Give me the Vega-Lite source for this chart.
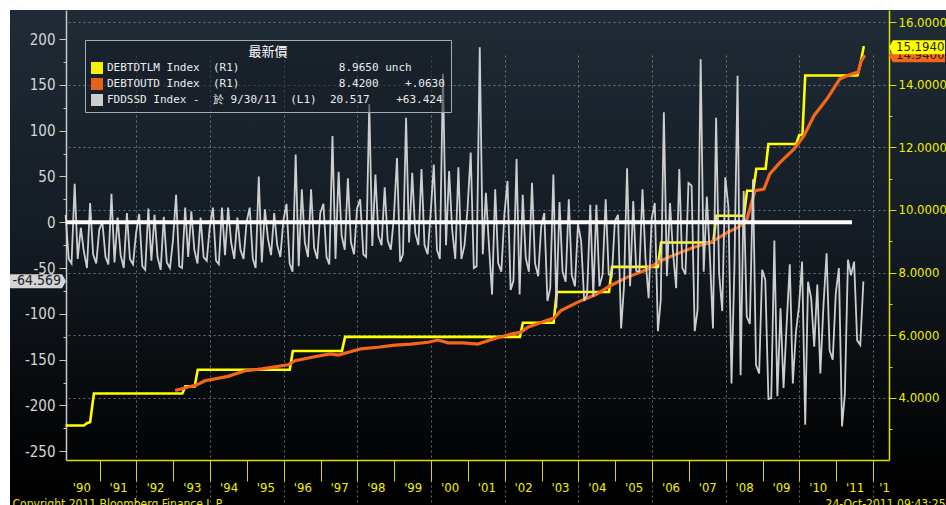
{
  "$schema": "https://vega.github.io/schema/vega-lite/v6.json",
  "width": 936,
  "height": 495,
  "autosize": {"type": "none"},
  "padding": {"left": 10, "top": 10, "right": 0, "bottom": 0},
  "background": "#ffffff",
  "config": {
    "view": {
      "stroke": null,
      "fill": {"gradient": "linear", "x1": 0, "y1": 0, "x2": 0, "y2": 1,
        "stops": [
          {"offset": 0, "color": "#1f2b36"},
          {"offset": 0.45, "color": "#141c24"},
          {"offset": 0.88, "color": "#030405"},
          {"offset": 1, "color": "#000000"}
        ]}
    },
    "axis": {"labelFont": "Liberation Sans Narrow, DejaVu Sans Condensed, sans-serif", "titleFont": "Liberation Sans Narrow, DejaVu Sans Condensed, sans-serif", "titleFontWeight": "normal"},
    "legend": {"strokeWidth": 1}
  },
  "datasets": {
    "fdd": [
      {"d":"1990-01-28","v":8},{"d":"1990-02-28","v":-40},{"d":"1990-03-28","v":-45},{"d":"1990-04-28","v":42},{"d":"1990-05-28","v":-40},{"d":"1990-06-28","v":-6},{"d":"1990-07-28","v":-32},{"d":"1990-08-28","v":-50},{"d":"1990-09-28","v":21},{"d":"1990-10-28","v":-35},{"d":"1990-11-28","v":-45},{"d":"1990-12-28","v":-8},
      {"d":"1991-01-28","v":0},{"d":"1991-02-28","v":-38},{"d":"1991-03-28","v":-46},{"d":"1991-04-28","v":31},{"d":"1991-05-28","v":-44},{"d":"1991-06-28","v":5},{"d":"1991-07-28","v":-36},{"d":"1991-08-28","v":-50},{"d":"1991-09-28","v":10},{"d":"1991-10-28","v":-40},{"d":"1991-11-28","v":-46},{"d":"1991-12-28","v":-12},
      {"d":"1992-01-28","v":9},{"d":"1992-02-28","v":-48},{"d":"1992-03-28","v":-52},{"d":"1992-04-28","v":15},{"d":"1992-05-28","v":-42},{"d":"1992-06-28","v":8},{"d":"1992-07-28","v":-38},{"d":"1992-08-28","v":-52},{"d":"1992-09-28","v":6},{"d":"1992-10-28","v":-44},{"d":"1992-11-28","v":-50},{"d":"1992-12-28","v":-20},
      {"d":"1993-01-28","v":30},{"d":"1993-02-28","v":-48},{"d":"1993-03-28","v":-50},{"d":"1993-04-28","v":16},{"d":"1993-05-28","v":-38},{"d":"1993-06-28","v":12},{"d":"1993-07-28","v":-30},{"d":"1993-08-28","v":-45},{"d":"1993-09-28","v":5},{"d":"1993-10-28","v":-38},{"d":"1993-11-28","v":-42},{"d":"1993-12-28","v":-5},
      {"d":"1994-01-28","v":16},{"d":"1994-02-28","v":-42},{"d":"1994-03-28","v":-46},{"d":"1994-04-28","v":16},{"d":"1994-05-28","v":-36},{"d":"1994-06-28","v":16},{"d":"1994-07-28","v":-22},{"d":"1994-08-28","v":-40},{"d":"1994-09-28","v":5},{"d":"1994-10-28","v":-30},{"d":"1994-11-28","v":-40},{"d":"1994-12-28","v":0},
      {"d":"1995-01-28","v":16},{"d":"1995-02-28","v":-40},{"d":"1995-03-28","v":-50},{"d":"1995-04-28","v":50},{"d":"1995-05-28","v":-44},{"d":"1995-06-28","v":14},{"d":"1995-07-28","v":-18},{"d":"1995-08-28","v":-36},{"d":"1995-09-28","v":10},{"d":"1995-10-28","v":-25},{"d":"1995-11-28","v":-38},{"d":"1995-12-28","v":2},
      {"d":"1996-01-28","v":20},{"d":"1996-02-28","v":-45},{"d":"1996-03-28","v":-54},{"d":"1996-04-28","v":74},{"d":"1996-05-28","v":-48},{"d":"1996-06-28","v":36},{"d":"1996-07-28","v":-22},{"d":"1996-08-28","v":-38},{"d":"1996-09-28","v":36},{"d":"1996-10-28","v":-28},{"d":"1996-11-28","v":-40},{"d":"1996-12-28","v":10},
      {"d":"1997-01-28","v":20},{"d":"1997-02-28","v":-38},{"d":"1997-03-28","v":-46},{"d":"1997-04-28","v":94},{"d":"1997-05-28","v":-40},{"d":"1997-06-28","v":55},{"d":"1997-07-28","v":-15},{"d":"1997-08-28","v":-30},{"d":"1997-09-28","v":48},{"d":"1997-10-28","v":-22},{"d":"1997-11-28","v":-35},{"d":"1997-12-28","v":15},
      {"d":"1998-01-28","v":25},{"d":"1998-02-28","v":-35},{"d":"1998-03-28","v":-38},{"d":"1998-04-28","v":129},{"d":"1998-05-28","v":-26},{"d":"1998-06-28","v":52},{"d":"1998-07-28","v":-15},{"d":"1998-08-28","v":-25},{"d":"1998-09-28","v":38},{"d":"1998-10-28","v":-20},{"d":"1998-11-28","v":-30},{"d":"1998-12-28","v":5},
      {"d":"1999-01-28","v":70},{"d":"1999-02-28","v":-43},{"d":"1999-03-28","v":-35},{"d":"1999-04-28","v":114},{"d":"1999-05-28","v":-22},{"d":"1999-06-28","v":54},{"d":"1999-07-28","v":-12},{"d":"1999-08-28","v":-25},{"d":"1999-09-28","v":58},{"d":"1999-10-28","v":-25},{"d":"1999-11-28","v":-35},{"d":"1999-12-28","v":10},
      {"d":"2000-01-28","v":63},{"d":"2000-02-28","v":-30},{"d":"2000-03-28","v":-40},{"d":"2000-04-28","v":162},{"d":"2000-05-28","v":-25},{"d":"2000-06-28","v":56},{"d":"2000-07-28","v":-8},{"d":"2000-08-28","v":-40},{"d":"2000-09-28","v":60},{"d":"2000-10-28","v":-40},{"d":"2000-11-28","v":-25},{"d":"2000-12-28","v":15},
      {"d":"2001-01-28","v":76},{"d":"2001-02-28","v":-50},{"d":"2001-03-28","v":-48},{"d":"2001-04-28","v":191},{"d":"2001-05-28","v":-35},{"d":"2001-06-28","v":32},{"d":"2001-07-28","v":-25},{"d":"2001-08-28","v":-79},{"d":"2001-09-28","v":36},{"d":"2001-10-28","v":-45},{"d":"2001-11-28","v":-54},{"d":"2001-12-28","v":8},
      {"d":"2002-01-28","v":45},{"d":"2002-02-28","v":-74},{"d":"2002-03-28","v":-64},{"d":"2002-04-28","v":69},{"d":"2002-05-28","v":-79},{"d":"2002-06-28","v":30},{"d":"2002-07-28","v":-39},{"d":"2002-08-28","v":-54},{"d":"2002-09-28","v":43},{"d":"2002-10-28","v":-45},{"d":"2002-11-28","v":-59},{"d":"2002-12-28","v":-5},
      {"d":"2003-01-28","v":10},{"d":"2003-02-28","v":-86},{"d":"2003-03-28","v":-72},{"d":"2003-04-28","v":52},{"d":"2003-05-28","v":-94},{"d":"2003-06-28","v":22},{"d":"2003-07-28","v":-54},{"d":"2003-08-28","v":-65},{"d":"2003-09-28","v":25},{"d":"2003-10-28","v":-58},{"d":"2003-11-28","v":-70},{"d":"2003-12-28","v":-2},
      {"d":"2004-01-28","v":-20},{"d":"2004-02-28","v":-86},{"d":"2004-03-28","v":-79},{"d":"2004-04-28","v":19},{"d":"2004-05-28","v":-81},{"d":"2004-06-28","v":19},{"d":"2004-07-28","v":-70},{"d":"2004-08-28","v":-57},{"d":"2004-09-28","v":25},{"d":"2004-10-28","v":-57},{"d":"2004-11-28","v":-59},{"d":"2004-12-28","v":1},
      {"d":"2005-01-28","v":8},{"d":"2005-02-28","v":-116},{"d":"2005-03-28","v":-71},{"d":"2005-04-28","v":59},{"d":"2005-05-28","v":-70},{"d":"2005-06-28","v":23},{"d":"2005-07-28","v":-53},{"d":"2005-08-28","v":-54},{"d":"2005-09-28","v":36},{"d":"2005-10-28","v":-40},{"d":"2005-11-28","v":-83},{"d":"2005-12-28","v":4},
      {"d":"2006-01-28","v":21},{"d":"2006-02-28","v":-119},{"d":"2006-03-28","v":-85},{"d":"2006-04-28","v":120},{"d":"2006-05-28","v":-59},{"d":"2006-06-28","v":21},{"d":"2006-07-28","v":-33},{"d":"2006-08-28","v":-72},{"d":"2006-09-28","v":58},{"d":"2006-10-28","v":-50},{"d":"2006-11-28","v":-57},{"d":"2006-12-28","v":43},
      {"d":"2007-01-28","v":40},{"d":"2007-02-28","v":-119},{"d":"2007-03-28","v":-96},{"d":"2007-04-28","v":178},{"d":"2007-05-28","v":-54},{"d":"2007-06-28","v":28},{"d":"2007-07-28","v":-36},{"d":"2007-08-28","v":-116},{"d":"2007-09-28","v":114},{"d":"2007-10-28","v":-56},{"d":"2007-11-28","v":-97},{"d":"2007-12-28","v":49},
      {"d":"2008-01-28","v":17},{"d":"2008-02-28","v":-176},{"d":"2008-03-28","v":-48},{"d":"2008-04-28","v":160},{"d":"2008-05-28","v":-167},{"d":"2008-06-28","v":34},{"d":"2008-07-28","v":-103},{"d":"2008-08-28","v":-111},{"d":"2008-09-28","v":47},{"d":"2008-10-28","v":-156},{"d":"2008-11-28","v":-165},{"d":"2008-12-28","v":-52},
      {"d":"2009-01-28","v":-63},{"d":"2009-02-28","v":-193},{"d":"2009-03-28","v":-192},{"d":"2009-04-28","v":-20},{"d":"2009-05-28","v":-190},{"d":"2009-06-28","v":-94},{"d":"2009-07-28","v":-181},{"d":"2009-08-28","v":-111},{"d":"2009-09-28","v":-46},{"d":"2009-10-28","v":-176},{"d":"2009-11-28","v":-120},{"d":"2009-12-28","v":-92},
      {"d":"2010-01-28","v":-43},{"d":"2010-02-28","v":-221},{"d":"2010-03-28","v":-65},{"d":"2010-04-28","v":-83},{"d":"2010-05-28","v":-136},{"d":"2010-06-28","v":-68},{"d":"2010-07-28","v":-165},{"d":"2010-08-28","v":-91},{"d":"2010-09-28","v":-34},{"d":"2010-10-28","v":-140},{"d":"2010-11-28","v":-150},{"d":"2010-12-28","v":-78},
      {"d":"2011-01-28","v":-50},{"d":"2011-02-28","v":-223},{"d":"2011-03-28","v":-188},{"d":"2011-04-28","v":-41},{"d":"2011-05-28","v":-58},{"d":"2011-06-28","v":-43},{"d":"2011-07-28","v":-129},{"d":"2011-08-28","v":-134},{"d":"2011-09-28","v":-64.569}
    ],
    "yel": [
      {"d":"1990-01-28","v":3.1227},{"d":"1990-07-28","v":3.1227},{"d":"1990-08-28","v":3.195},{"d":"1990-09-28","v":3.23},{"d":"1990-11-05","v":4.145},
      {"d":"1993-03-31","v":4.145},{"d":"1993-04-30","v":4.37},{"d":"1993-07-31","v":4.37},{"d":"1993-08-31","v":4.9},
      {"d":"1996-02-29","v":4.9},{"d":"1996-03-31","v":5.5},{"d":"1997-07-31","v":5.5},{"d":"1997-08-31","v":5.95},
      {"d":"2002-05-31","v":5.95},{"d":"2002-06-30","v":6.4},{"d":"2003-04-30","v":6.4},{"d":"2003-05-31","v":7.384},
      {"d":"2004-10-31","v":7.384},{"d":"2004-11-30","v":8.184},{"d":"2006-02-28","v":8.184},{"d":"2006-03-31","v":8.965},
      {"d":"2007-08-31","v":8.965},{"d":"2007-09-30","v":9.815},{"d":"2008-06-30","v":9.815},{"d":"2008-07-31","v":10.615},
      {"d":"2008-09-30","v":10.615},{"d":"2008-10-31","v":11.315},{"d":"2009-01-31","v":11.315},{"d":"2009-02-28","v":12.104},
      {"d":"2009-11-30","v":12.104},{"d":"2009-12-31","v":12.394},{"d":"2010-01-31","v":12.394},{"d":"2010-02-28","v":14.294},
      {"d":"2011-07-31","v":14.294},{"d":"2011-08-31","v":14.694},{"d":"2011-09-30","v":15.194},{"d":"2011-10-12","v":15.194}
    ],
    "ora": [
      {"d":"1993-01-19","v":4.24},{"d":"1993-08-22","v":4.42},{"d":"1993-11-10","v":4.55},{"d":"1994-06-28","v":4.69},{"d":"1994-12-13","v":4.87},
      {"d":"1995-05-30","v":4.93},{"d":"1996-02-13","v":5.06},{"d":"1996-04-22","v":5.19},{"d":"1996-10-07","v":5.3},{"d":"1997-04-05","v":5.41},
      {"d":"1997-06-24","v":5.37},{"d":"1998-02-05","v":5.57},{"d":"1998-07-23","v":5.62},{"d":"1999-01-08","v":5.69},{"d":"1999-06-13","v":5.72},
      {"d":"1999-12-02","v":5.78},{"d":"2000-03-10","v":5.85},{"d":"2000-06-17","v":5.76},{"d":"2000-11-14","v":5.76},{"d":"2001-04-08","v":5.72},
      {"d":"2001-09-16","v":5.89},{"d":"2002-03-03","v":6.04},{"d":"2002-06-10","v":6.1},{"d":"2002-08-18","v":6.26},{"d":"2003-01-22","v":6.44},
      {"d":"2003-05-04","v":6.55},{"d":"2003-07-12","v":6.79},{"d":"2003-12-27","v":7.06},{"d":"2004-06-24","v":7.3},{"d":"2004-11-17","v":7.59},
      {"d":"2005-04-27","v":7.85},{"d":"2005-10-12","v":8.06},{"d":"2006-03-29","v":8.38},{"d":"2006-09-05","v":8.6},{"d":"2007-02-20","v":8.81},
      {"d":"2007-08-07","v":8.97},{"d":"2008-02-02","v":9.31},{"d":"2008-05-07","v":9.45},{"d":"2008-07-30","v":9.71},{"d":"2008-10-18","v":10.62},
      {"d":"2009-01-15","v":10.67},{"d":"2009-03-14","v":11.15},{"d":"2009-06-24","v":11.52},{"d":"2009-11-10","v":11.95},{"d":"2010-02-16","v":12.37},
      {"d":"2010-05-26","v":13.01},{"d":"2010-10-01","v":13.54},{"d":"2011-02-05","v":14.18},{"d":"2011-05-15","v":14.32},{"d":"2011-08-07","v":14.4},
      {"d":"2011-09-06","v":14.75},{"d":"2011-10-12","v":14.94}
    ],
    "zero": [{"d":"1990-02-03","v":0},{"d":"2011-06-07","v":0}],
    "tagR": [{"s":"DEBTOUTD","v":14.94},{"s":"DEBTDTLM","v":15.194}],
    "tagL": [{"s":"FDDSSD","v":-64.569}]
  },
  "layer": [
    {
      "encoding": {
        "y": {
          "field": "v", "type": "quantitative",
          "scale": {"domain": [2.021, 16.383], "range": [450, 0], "nice": false, "zero": false},
          "axis": {
            "orient": "right", "offset": -57,
            "values": [3,4,5,6,7,8,9,10,11,12,13,14,15,16],
            "labelExpr": "datum.value % 2 == 0 ? format(datum.value, '.4f') : ''",
            "labelColor": "#f0f000", "labelFontSize": 13, "labelPadding": 2,
            "labelFlush": false, "labelOverlap": false,
            "tickSize": {"condition": {"test": "datum.value % 2 == 0", "value": 7}, "value": 3},
            "tickColor": "#e0e000", "domainColor": "#e0e000", "domainWidth": 1.5,
            "grid": true, "gridColor": "#8a9096", "gridDash": [2, 3],
            "gridOpacity": {"condition": {"test": "datum.value % 2 == 0", "value": 0.75}, "value": 0},
            "title": "24-Oct-2011  09:43:25",
            "titleAngle": 0, "titleX": 56, "titleY": 497, "titleAlign": "right", "titleBaseline": "alphabetic",
            "titleColor": "#e8e800", "titleFontSize": 12
          }
        }
      },
      "layer": [
        {
          "data": {"name": "yel"},
          "mark": {"type": "line", "strokeWidth": 2.6},
          "encoding": {
            "x": {
              "field": "d", "type": "temporal",
              "scale": {"type": "utc", "domain": [{"year":1990,"month":2,"date":1,"utc":true},{"year":2012,"month":6,"date":8,"utc":true}], "range": [56, 879]},
              "axis": {
                "orient": "bottom", "offset": -45,
                "values": [{"year":1991,"month":1,"date":1,"utc":true},{"year":1992,"month":1,"date":1,"utc":true},{"year":1993,"month":1,"date":1,"utc":true},{"year":1994,"month":1,"date":1,"utc":true},{"year":1995,"month":1,"date":1,"utc":true},{"year":1996,"month":1,"date":1,"utc":true},{"year":1997,"month":1,"date":1,"utc":true},{"year":1998,"month":1,"date":1,"utc":true},{"year":1999,"month":1,"date":1,"utc":true},{"year":2000,"month":1,"date":1,"utc":true},{"year":2001,"month":1,"date":1,"utc":true},{"year":2002,"month":1,"date":1,"utc":true},{"year":2003,"month":1,"date":1,"utc":true},{"year":2004,"month":1,"date":1,"utc":true},{"year":2005,"month":1,"date":1,"utc":true},{"year":2006,"month":1,"date":1,"utc":true},{"year":2007,"month":1,"date":1,"utc":true},{"year":2008,"month":1,"date":1,"utc":true},{"year":2009,"month":1,"date":1,"utc":true},{"year":2010,"month":1,"date":1,"utc":true},{"year":2011,"month":1,"date":1,"utc":true},{"year":2012,"month":1,"date":1,"utc":true},{"year":2012,"month":5,"date":20,"utc":true}],
                "labelExpr": "utcmonth(datum.value) == 0 ? \"'\" + slice(toString(utcyear(datum.value) - 1), 2) : \"'1\"",
                "labelOffset": {"condition": {"test": "utcmonth(datum.value) == 0", "value": -18.4}, "value": -3},
                "labelColor": "#f2f200", "labelFontSize": 13, "labelPadding": 0,
                "labelFlush": false, "labelOverlap": false, "labelBound": false,
                "tickSize": 21, "tickColor": "#d8d800", "tickWidth": 1,
                "tickOpacity": {"condition": {"test": "utcmonth(datum.value) == 0", "value": 1}, "value": 0},
                "domainColor": "#e0e000", "domainWidth": 1.5,
                "grid": true, "gridColor": "#8a9096", "gridDash": [2, 3], "gridWidth": 1,
                "gridOpacity": {"condition": {"test": "utcmonth(datum.value) == 0 && utcyear(datum.value) % 2 == 0", "value": 0.75}, "value": 0},
                "title": "Copyright 2011 Bloomberg Finance L.P.",
                "titleX": 2, "titleY": 47, "titleAlign": "left", "titleAnchor": "start", "titleBaseline": "alphabetic",
                "titleColor": "#e8e800", "titleFontSize": 12
              }
            },
            "color": {
              "datum": "DEBTDTLM", "type": "nominal",
              "scale": {"domain": ["DEBTDTLM", "DEBTOUTD", "FDDSSD"], "range": ["#ffff00", "#f4661b", "#d8d8d8"]},
              "legend": {
                "orient": "none", "legendX": 75, "legendY": 30,
                "title": "最新價", "titleFont": "Noto Sans CJK TC", "titleFontSize": 13, "titleColor": "#ffffff",
                "titleFontWeight": "normal", "titleAnchor": "middle", "titlePadding": 3,
                "labelFont": "DejaVu Sans Mono", "labelFontSize": 11, "labelColor": "#ececec", "labelLimit": 500, "labelOffset": 4,
                "symbolType": "square", "symbolSize": 36, "symbolStrokeWidth": 6, "symbolOpacity": 1,
                "clipHeight": 12,
                "rowPadding": 4, "padding": 6,
                "fillColor": "rgba(22,30,38,0.55)", "strokeColor": "#a8acb0",
                "labelExpr": "datum.label == 'DEBTDTLM' ? 'DEBTDTLM\u00a0Index\u00a0\u00a0(R1)\u00a0\u00a0\u00a0\u00a0\u00a0\u00a0\u00a0\u00a0\u00a0\u00a0\u00a0\u00a0\u00a0\u00a0\u00a08.9650\u00a0unch' : datum.label == 'DEBTOUTD' ? 'DEBTOUTD\u00a0Index\u00a0\u00a0(R1)\u00a0\u00a0\u00a0\u00a0\u00a0\u00a0\u00a0\u00a0\u00a0\u00a0\u00a0\u00a0\u00a0\u00a0\u00a08.4200\u00a0\u00a0\u00a0\u00a0+.0630' : 'FDDSSD\u00a0Index\u00a0-\u00a0\u00a0於\u00a09/30/11\u00a0\u00a0(L1)\u00a0\u00a020.517\u00a0\u00a0\u00a0\u00a0+63.424'"
              }
            }
          }
        },
        {
          "data": {"name": "ora"},
          "mark": {"type": "line", "strokeWidth": 3.2},
          "encoding": {
            "x": {"field": "d", "type": "temporal"},
            "color": {"datum": "DEBTOUTD", "type": "nominal"}
          }
        },
        {
          "data": {"name": "tagR"},
          "transform": [{"filter": "datum.s == 'DEBTOUTD'"}],
          "mark": {"type": "point", "shape": "M0,0L0.14,-0.25L2,-0.25L2,0.25L0.14,0.25Z", "size": 3136, "filled": true, "color": "#f4661b", "opacity": 1, "strokeWidth": 0},
          "encoding": {"x": {"datum": {"year":2012,"month":6,"date":8,"utc":true}, "type": "temporal"}}
        },
        {
          "data": {"name": "tagR"},
          "transform": [{"filter": "datum.s == 'DEBTOUTD'"}],
          "mark": {"type": "text", "align": "left", "baseline": "middle", "dx": 7, "font": "Liberation Sans Narrow, DejaVu Sans Condensed, sans-serif", "fontSize": 13, "color": "#222222"},
          "encoding": {
            "x": {"datum": {"year":2012,"month":6,"date":8,"utc":true}, "type": "temporal"},
            "text": {"field": "v", "type": "quantitative", "format": ".4f"}
          }
        },
        {
          "data": {"name": "tagR"},
          "transform": [{"filter": "datum.s == 'DEBTDTLM'"}],
          "mark": {"type": "point", "shape": "M0,0L0.14,-0.25L2,-0.25L2,0.25L0.14,0.25Z", "size": 3136, "filled": true, "color": "#ffff00", "opacity": 1, "strokeWidth": 0},
          "encoding": {"x": {"datum": {"year":2012,"month":6,"date":8,"utc":true}, "type": "temporal"}}
        },
        {
          "data": {"name": "tagR"},
          "transform": [{"filter": "datum.s == 'DEBTDTLM'"}],
          "mark": {"type": "text", "align": "left", "baseline": "middle", "dx": 7, "font": "Liberation Sans Narrow, DejaVu Sans Condensed, sans-serif", "fontSize": 13, "color": "#222222"},
          "encoding": {
            "x": {"datum": {"year":2012,"month":6,"date":8,"utc":true}, "type": "temporal"},
            "text": {"field": "v", "type": "quantitative", "format": ".4f"}
          }
        }
      ]
    },
    {
      "encoding": {
        "y": {
          "field": "v", "type": "quantitative",
          "scale": {"domain": [-259.6, 231.7], "range": [450, 0], "nice": false, "zero": false},
          "axis": {
            "orient": "left", "offset": -56,
            "values": [-250,-225,-200,-175,-150,-125,-100,-75,-50,-25,0,25,50,75,100,125,150,175,200],
            "labelExpr": "datum.value % 50 == 0 ? toString(datum.value) : ''",
            "labelColor": "#d6d6d6", "labelFontSize": 15, "labelPadding": 4,
            "labelFlush": false, "labelOverlap": false,
            "tickSize": {"condition": {"test": "datum.value % 50 == 0", "value": 7}, "value": 3},
            "tickColor": "#c8c8c8", "domainColor": "#c8c8c8", "domainWidth": 1.5,
            "grid": false, "title": null
          }
        }
      },
      "layer": [
        {
          "data": {"name": "fdd"},
          "mark": {"type": "line", "strokeWidth": 1.8, "opacity": 0.95},
          "encoding": {
            "x": {"field": "d", "type": "temporal"},
            "color": {"datum": "FDDSSD", "type": "nominal"}
          }
        },
        {
          "data": {"name": "zero"},
          "mark": {"type": "line", "strokeWidth": 4, "color": "#ffffff"},
          "encoding": {"x": {"field": "d", "type": "temporal"}}
        },
        {
          "data": {"name": "tagL"},
          "mark": {"type": "point", "shape": "M0,0L-0.14,-0.25L-2,-0.25L-2,0.25L-0.14,0.25Z", "size": 3136, "filled": true, "color": "#d4d4d4", "opacity": 1, "strokeWidth": 0},
          "encoding": {"x": {"datum": {"year":1990,"month":2,"date":1,"utc":true}, "type": "temporal"}}
        },
        {
          "data": {"name": "tagL"},
          "mark": {"type": "text", "align": "right", "baseline": "middle", "dx": -5, "font": "Liberation Sans Narrow, DejaVu Sans Condensed, sans-serif", "fontSize": 14, "color": "#222222"},
          "encoding": {
            "x": {"datum": {"year":1990,"month":2,"date":1,"utc":true}, "type": "temporal"},
            "text": {"field": "v", "type": "nominal"}
          }
        }
      ]
    }
  ],
  "resolve": {"scale": {"y": "independent"}}
}
